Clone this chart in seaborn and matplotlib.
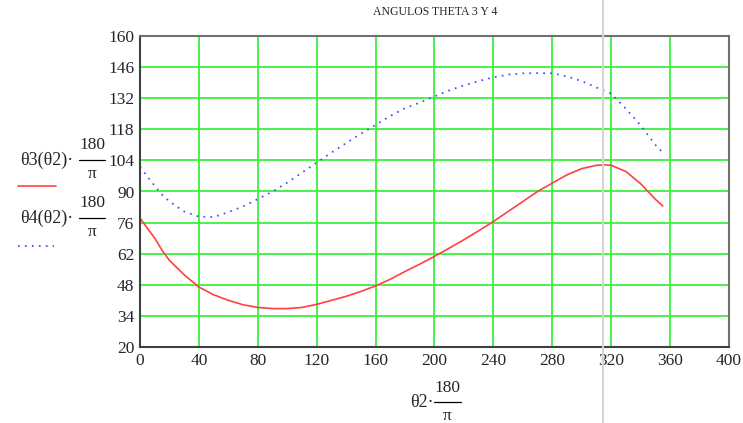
import numpy as np
import pandas as pd
import matplotlib
matplotlib.use('Agg')
import matplotlib.pyplot as plt
from matplotlib.lines import Line2D
import seaborn as sns

# angles in degrees
theta2 = [0, 10, 15, 20, 30, 40, 50, 60, 70, 80, 90, 100, 110, 120, 130, 140, 150,
          160, 170, 180, 190, 200, 210, 220, 230, 240, 250, 260, 270, 280, 290,
          300, 310, 315, 320, 330, 340, 350, 355]
theta3 = [78, 69, 63.5, 59, 52.5, 47, 43.5, 41, 39, 37.8, 37.3, 37.3, 37.8, 39.2, 41,
          42.8, 45, 47.5, 50.5, 54, 57.3, 60.8, 64.5, 68.3, 72.3, 76.5, 81, 85.5, 90,
          93.8, 97.5, 100.3, 101.8, 102, 101.8, 99, 93.5, 86.5, 83.5]
theta4 = [101, 92.5, 88.5, 85.5, 81, 78.7, 78.5, 80.7, 83.3, 86.6, 90, 94, 98.5, 103,
          107.5, 111.8, 116, 120, 124, 127.5, 130, 132.8, 135.5, 137.8, 139.7, 141.4,
          142.6, 143.2, 143.3, 143.2, 141.8, 139.7, 136.8, 135.5, 134, 127.2, 119.8,
          111, 107.5]

xticks = list(range(0, 401, 40))
yticks = list(range(20, 161, 14))

df = pd.DataFrame({'theta2': theta2, 'theta3': theta3, 'theta4': theta4})

sns.set_style('white')
plt.rcParams['font.family'] = ['Liberation Serif', 'DejaVu Serif']

fig = plt.figure(figsize=(7.43, 4.23), dpi=100)
ax = fig.add_axes([140 / 743, 1 - 347 / 423, 589 / 743, 311 / 423])

dots = (0, (1, 3))
sns.lineplot(data=df, x='theta2', y='theta3', ax=ax, color='#ff4040', lw=1.2)
sns.lineplot(data=df, x='theta2', y='theta4', ax=ax, color='#4848ff', lw=1.25,
             linestyle=dots)

ax.set_xlim(0, 400)
ax.set_ylim(20, 160)
ax.set_xticks(xticks)
ax.set_yticks(yticks)
ax.set_xlabel('')
ax.set_ylabel('')
ax.grid(True, color='#3cf03c', lw=1.3)
ax.set_axisbelow(True)
ax.tick_params(length=0, labelsize=12.5, pad=4)
for s in ['left', 'bottom']:
    ax.spines[s].set_color('#404040')
    ax.spines[s].set_linewidth(1.5)
for s in ['top', 'right']:
    ax.spines[s].set_color('#707070')
    ax.spines[s].set_linewidth(1.5)

W, H = 743, 423
def px(x, y):
    return x / W, 1 - y / H

fig.text(*px(435, 12), 'ANGULOS THETA 3 Y 4', ha='center', va='center', fontsize=8.5)

# left legend text with fractions
def frac_label(xl, yc, label):
    fig.text(*px(xl, yc), label, ha='left', va='center', fontsize=13)
    fig.text(*px(92, yc - 15), '180', ha='center', va='center', fontsize=12.5)
    fig.add_artist(Line2D([79 / W, 105 / W], [1 - yc / H, 1 - yc / H], color='black', lw=0.9))
    fig.text(*px(92, yc + 14), 'π', ha='center', va='center', fontsize=12.5)

frac_label(20, 160, 'θ3(θ2)·')
frac_label(20, 218, 'θ4(θ2)·')
fig.add_artist(Line2D([18 / W, 56 / W], [1 - 186.5 / H] * 2, color='#ff4040', lw=1.2))
fig.add_artist(Line2D([18 / W, 54 / W], [1 - 246 / H] * 2, color='#4848ff', lw=1.25,
                      linestyle=dots))

# x label with fraction
fig.text(*px(410, 402), 'θ2·', ha='left', va='center', fontsize=13)
fig.text(*px(447, 388), '180', ha='center', va='center', fontsize=12.5)
fig.add_artist(Line2D([434 / W, 461 / W], [1 - 402 / H] * 2, color='black', lw=0.9))
fig.text(*px(447, 416), 'π', ha='center', va='center', fontsize=12.5)

# gray cursor line
fig.add_artist(Line2D([603 / W, 603 / W], [0, 1], color='#d4d4d4', lw=1.5))

fig.savefig('out.png', dpi=100)
